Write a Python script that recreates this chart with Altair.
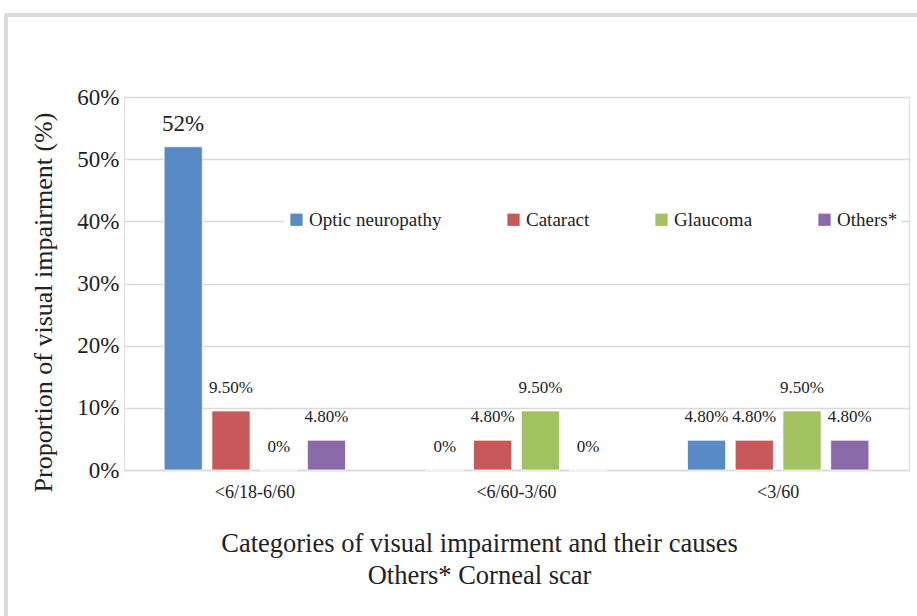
import altair as alt
import pandas as pd

categories = ["<6/18-6/60", "<6/60-3/60", "<3/60"]
causes = ["Optic neuropathy", "Cataract", "Glaucoma", "Others*"]
values = [
    [52.0, 9.5, 0.0, 4.8],
    [0.0, 4.8, 9.5, 0.0],
    [4.8, 4.8, 9.5, 4.8],
]
labels = [
    ["52%", "9.50%", "0%", "4.80%"],
    ["0%", "4.80%", "9.50%", "0%"],
    ["4.80%", "4.80%", "9.50%", "4.80%"],
]
colors = ["#5a8ac6", "#c9585a", "#a2c15f", "#8a6aa8"]

rows = []
for ci, cat in enumerate(categories):
    for si, cause in enumerate(causes):
        rows.append({"category": cat, "cause": cause,
                     "value": values[ci][si], "label": labels[ci][si]})
df = pd.DataFrame(rows)

FONT = "Liberation Serif"
W, H = 785, 373

x = alt.X("category:N", sort=categories,
          scale=alt.Scale(paddingInner=0.27, paddingOuter=0.135),
          axis=alt.Axis(title=["Categories of visual impairment and their causes",
                               "Others* Corneal scar"],
                        titleX=355, titleY=60, titleBaseline="top",
                        titleAnchor="start", titleAlign="center",
                        titleFontSize=26.5, titleFontWeight="normal",
                        titleFont=FONT, titleColor="#222", titleLineHeight=32,
                        labelAngle=0, labelFontSize=18, labelFont=FONT,
                        labelColor="#222", labelPadding=13, ticks=False,
                        domainColor="#d9d9d9", domainWidth=1.5))
xo = alt.XOffset("cause:N", sort=causes,
                 scale=alt.Scale(paddingInner=0.2, paddingOuter=0.1))
y = alt.Y("value:Q", scale=alt.Scale(domain=[0, 60]),
          axis=alt.Axis(values=[0, 10, 20, 30, 40, 50, 60],
                        labelExpr="datum.value + '%'",
                        title="Proportion of visual impairment (%)",
                        titleFont=FONT, titleFontSize=26, titleFontWeight="normal",
                        titleColor="#222", titleX=-81, titleY=205,
                        titleAlign="center", titleBaseline="middle",
                        labelFont=FONT, labelFontSize=23, labelColor="#222",
                        labelPadding=5, ticks=False, domain=False,
                        gridColor="#d9d9d9", gridWidth=1.5))

color = alt.Color("cause:N", sort=causes,
                  scale=alt.Scale(domain=causes, range=colors),
                  legend=alt.Legend(title=None, orient="none", legendX=160,
                                    legendY=110, direction="horizontal",
                                    columns=4, columnPadding=62,
                                    symbolType="square", symbolSize=150,
                                    symbolStrokeWidth=0,
                                    labelFont=FONT, labelFontSize=19,
                                    labelColor="#222", labelOffset=3,
                                    fillColor="white", padding=3))

bars = alt.Chart(df).mark_bar(stroke="white", strokeWidth=0.8).encode(
    x=x, xOffset=xo, y=y, color=color)

text = alt.Chart(df).mark_text(font=FONT, color="#222", dy=-23,
                               baseline="middle").encode(
    x=alt.X("category:N", sort=categories), xOffset=xo, y="value:Q",
    text="label:N",
    size=alt.condition("datum.value > 20", alt.value(23), alt.value(17)))

frame_v = alt.Chart(df).mark_rule(color="#d9d9d9", strokeWidth=3, clip=False).encode(
    x=alt.value(-118), y=alt.value(-82), y2=alt.value(H + 146))
frame_h = alt.Chart(df).mark_rule(color="#d9d9d9", strokeWidth=3, clip=False).encode(
    x=alt.value(-119), x2=alt.value(W + 8), y=alt.value(-82))

chart = alt.layer(frame_v, frame_h, bars, text).properties(
    width=W, height=H,
    padding={"left": 124, "top": 97, "right": 8, "bottom": 146},
    autosize=alt.AutoSizeParams(type="none"),
).configure_view(stroke=None).configure(background="white", font=FONT)

chart.save("out.html", embed_options={"renderer": "svg", "actions": False})
